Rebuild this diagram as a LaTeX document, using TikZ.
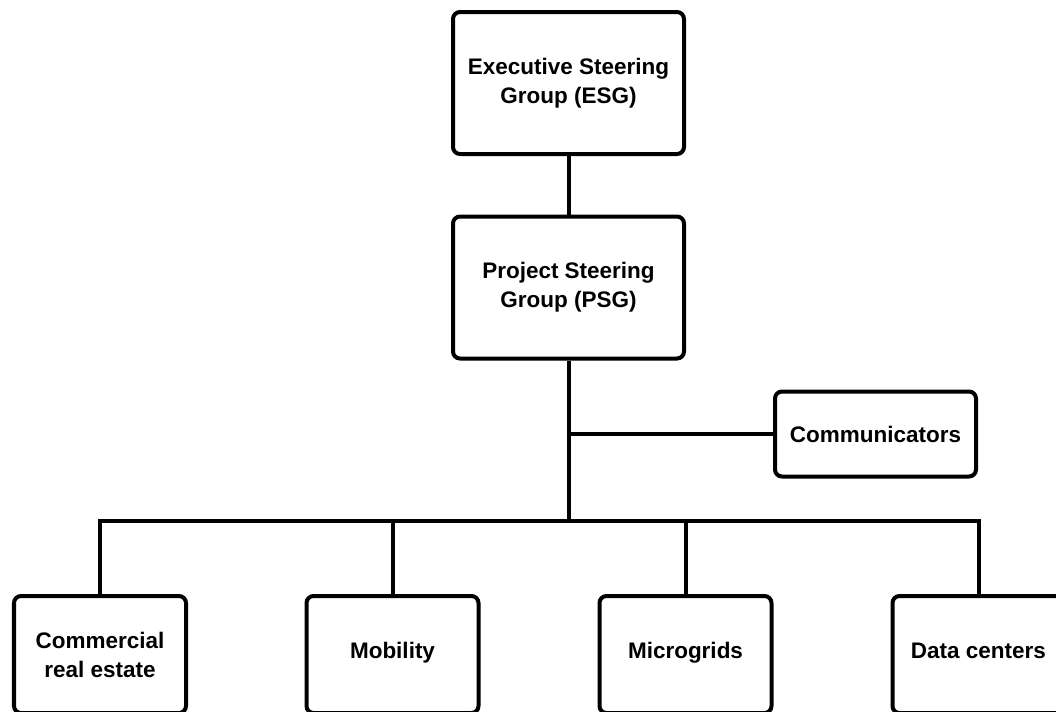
\documentclass[tikz,border=0pt]{standalone}
\usepackage{fontspec}
\setmainfont{Liberation Sans}
\usetikzlibrary{positioning}

\begin{document}
\begin{tikzpicture}[
  unit/.style={draw, line width=0.08cm, rounded corners=0.14cm, fill=white,
               minimum width=#1, align=center,
               font=\bfseries\fontsize{12.8}{16.5}\selectfont},
  unit/.default=4.62cm,
  oneline/.style={text height=0.72em, text depth=0.21em},
  link/.style={line width=0.08cm}
]
\useasboundingbox (0,0) rectangle (21.12,-14.22);

% Steering groups
\node[unit, minimum height=2.84cm] (esg) at (11.37,-1.66)
  {Executive Steering\\Group (ESG)};
\node[unit, minimum height=2.84cm] (psg) at (11.37,-5.75)
  {Project Steering\\Group (PSG)};
\draw[link] (esg) -- (psg);

% Communicators hang off the trunk
\node[unit=4.02cm, minimum height=1.7cm] (comm) at (17.51,-8.68) {Communicators};
\coordinate (bus) at (11.37,-10.42);
\draw[link] (psg) -- (bus);
\draw[link] (psg.south |- comm.west) -- (comm);

% Work streams (bottom edge runs off the page)
\node[unit=3.44cm, minimum height=2.34cm] (cre) at (2.0,-13.09) {Commercial\\real estate};
\node[unit=3.44cm, oneline, minimum height=2.34cm] (mob) at (7.85,-13.09) {Mobility};
\node[unit=3.44cm, oneline, minimum height=2.34cm] (mgr) at (13.71,-13.09) {Microgrids};
\node[unit=3.44cm, oneline, minimum height=2.34cm] (dcs) at (19.57,-13.09) {Data centers};

% Bus to the work streams
\draw[link] (cre.north) |- (bus) -| (dcs.north);
\draw[link] (mob.north) -- (mob.north |- bus);
\draw[link] (mgr.north) -- (mgr.north |- bus);

\end{tikzpicture}
\end{document}
